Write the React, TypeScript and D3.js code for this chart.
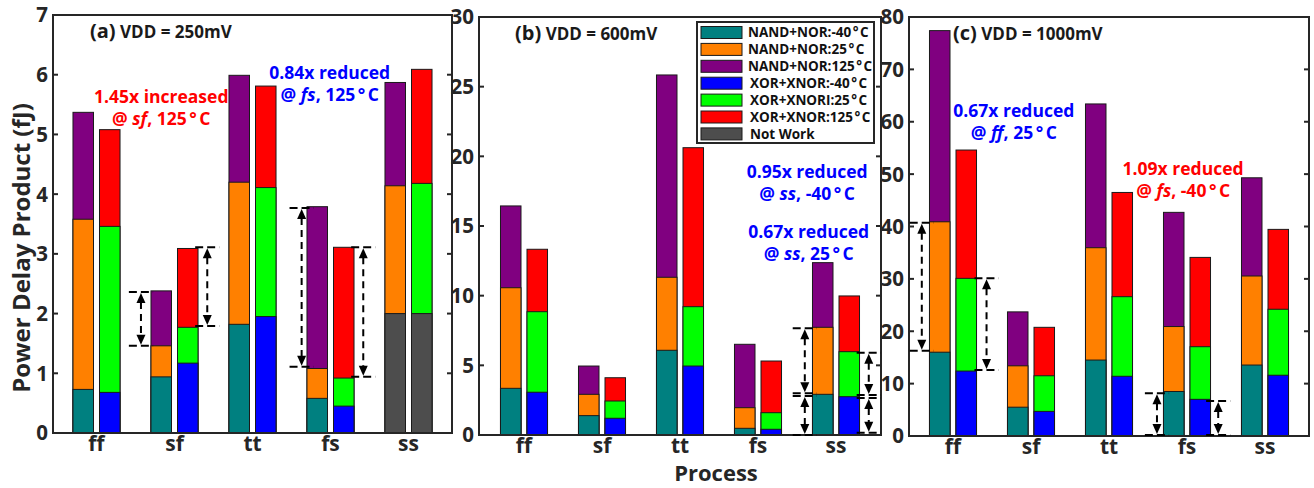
import React from "react";
import * as d3 from "d3";

const W = 1314;
const H = 488;
const FONT = "'Open Sans', 'DejaVu Sans', sans-serif";
const INK = "#262626";

const processes = ["ff", "sf", "tt", "fs", "ss"];

// (a) VDD = 250mV
const aNandM40 = [0.73, 0.94, 1.82, 0.58, 2.0];
const aNand25 = [3.58, 1.46, 4.2, 1.08, 4.14];
const aNand125 = [5.37, 2.38, 5.99, 3.79, 5.87];
const aXorM40 = [0.68, 1.17, 1.95, 0.45, 2.0];
const aXor25 = [3.46, 1.77, 4.11, 0.92, 4.18];
const aXor125 = [5.08, 3.09, 5.81, 3.11, 6.09];
const aNotWork = [false, false, false, false, true];

// (b) VDD = 600mV
const bNandM40 = [3.35, 1.39, 6.08, 0.48, 2.92];
const bNand25 = [10.57, 2.92, 11.32, 1.96, 7.73];
const bNand125 = [16.44, 4.95, 25.84, 6.51, 12.37];
const bXorM40 = [3.07, 1.2, 4.95, 0.41, 2.75];
const bXor25 = [8.85, 2.44, 9.21, 1.6, 5.98];
const bXor125 = [13.33, 4.11, 20.62, 5.31, 9.98];

// (c) VDD = 1000mV
const cNandM40 = [16.0, 5.5, 14.5, 8.5, 13.55];
const cNand25 = [40.9, 13.4, 35.95, 20.9, 30.55];
const cNand125 = [77.4, 23.7, 63.4, 42.7, 49.3];
const cXorM40 = [12.4, 4.7, 11.4, 7.0, 11.6];
const cXor25 = [30.1, 11.5, 26.6, 17.05, 24.2];
const cXor125 = [54.6, 20.75, 46.5, 34.1, 39.45];

const noneNotWork = [false, false, false, false, false];

const legendLabels = [
  "NAND+NOR:-40°C",
  "NAND+NOR:25°C",
  "NAND+NOR:125°C",
  "XOR+XNOR:-40°C",
  "XOR+XNORI:25°C",
  "XOR+XNOR:125°C",
  "Not Work",
];
const legendColors = ["#008080", "#FF8000", "#800080", "#0000FF", "#00FF00", "#FF0000", "#4D4D4D"];

type Arrow = { cat: number; off: number; lo: number; hi: number };
type Seg = { t: string; it?: boolean };
type Note = { cx: number; y: number; color: string; lines: Seg[][] };

const aArrows: Arrow[] = [
  { cat: 2, off: -0.43, lo: 1.46, hi: 2.36 },
  { cat: 2, off: 0.42, lo: 1.79, hi: 3.11 },
  { cat: 4, off: -0.37, lo: 1.11, hi: 3.77 },
  { cat: 4, off: 0.42, lo: 0.94, hi: 3.11 },
];
const bArrows: Arrow[] = [
  { cat: 5, off: -0.4, lo: 2.99, hi: 7.66 },
  { cat: 5, off: -0.4, lo: 0, hi: 2.8 },
  { cat: 5, off: 0.42, lo: 2.87, hi: 5.9 },
  { cat: 5, off: 0.42, lo: 0.17, hi: 2.66 },
];
const cArrows: Arrow[] = [
  { cat: 1, off: -0.4, lo: 16.3, hi: 40.7 },
  { cat: 1, off: 0.43, lo: 12.6, hi: 30.1 },
  { cat: 4, off: -0.385, lo: 0.2, hi: 8.15 },
  { cat: 4, off: 0.4, lo: 0.2, hi: 6.7 },
];

const aNotes: Note[] = [
  { cx: 1.83, y: 5.53, color: "#FF0000", lines: [[{ t: "1.45x increased" }], [{ t: "@ " }, { t: "sf", it: true }, { t: ", 125°C" }]] },
  { cx: 3.99, y: 5.93, color: "#0000FF", lines: [[{ t: "0.84x reduced" }], [{ t: "@ " }, { t: "fs", it: true }, { t: ", 125°C" }]] },
];
const bNotes: Note[] = [
  { cx: 4.63, y: 18.45, color: "#0000FF", lines: [[{ t: "0.95x reduced" }], [{ t: "@ " }, { t: "ss", it: true }, { t: ", -40°C" }]] },
  { cx: 4.65, y: 14.14, color: "#0000FF", lines: [[{ t: "0.67x reduced" }], [{ t: "@ " }, { t: "ss", it: true }, { t: ", 25°C" }]] },
];
const cNotes: Note[] = [
  { cx: 1.78, y: 60.9, color: "#0000FF", lines: [[{ t: "0.67x reduced" }], [{ t: "@ " }, { t: "ff", it: true }, { t: ", 25°C" }]] },
  { cx: 3.95, y: 49.8, color: "#FF0000", lines: [[{ t: "1.09x reduced" }], [{ t: "@ " }, { t: "fs", it: true }, { t: ", -40°C" }]] },
];

// spreads the degree sign out a little, like the original rendering
function Deg({ s, gap }: { s: string; gap: number }) {
  const k = s.indexOf("°");
  if (k < 0) return <>{s}</>;
  return (
    <>
      {s.slice(0, k)}
      <tspan dx={gap}>°</tspan>
      <tspan dx={gap}>{s.slice(k + 1)}</tspan>
    </>
  );
}

type PanelProps = {
  left: number;
  right: number;
  top: number;
  bottom: number;
  yMax: number;
  yStep: number;
  tag: string;
  vdd: string;
  titleDx: number;
  nand: number[][];
  xor: number[][];
  notWork: boolean[];
  arrows: Arrow[];
  notes: Note[];
  legend?: boolean;
};

function Panel(p: PanelProps) {
  const step = 78;
  const mid = (p.left + p.right) / 2;
  const x = d3.scaleLinear().domain([1, 5]).range([mid - 2 * step, mid + 2 * step]);
  const y = d3.scaleLinear().domain([0, p.yMax]).range([p.bottom, p.top]);
  const ticks = d3.range(0, p.yMax + p.yStep / 2, p.yStep);
  const bw = 0.263;
  const off = 0.17;
  const u = (v: number) => x(v) - x(0);

  const sides = [
    { s: p.nand, d: -off, c: [legendColors[0], legendColors[1], legendColors[2]] },
    { s: p.xor, d: off, c: [legendColors[3], legendColors[4], legendColors[5]] },
  ];

  return (
    <g>
      {processes.map((name, i) =>
        sides.map((sd, k) =>
          [2, 1, 0].map((lvl) => {
            const v = sd.s[lvl][i];
            const fill = lvl === 0 && p.notWork[i] ? legendColors[6] : sd.c[lvl];
            return (
              <rect
                key={`${name}-${k}-${lvl}`}
                x={x(i + 1 + sd.d) - u(bw) / 2}
                y={y(v)}
                width={u(bw)}
                height={y(0) - y(v)}
                fill={fill}
                stroke="#1a1a1a"
                strokeWidth={1}
              />
            );
          })
        )
      )}
      {/* frame */}
      <rect x={p.left} y={p.top} width={p.right - p.left} height={p.bottom - p.top} fill="none" stroke={INK} strokeWidth={2} />
      {ticks.map((t) => (
        <g key={t}>
          <line x1={p.left} x2={p.left + 5} y1={y(t)} y2={y(t)} stroke={INK} strokeWidth={2} />
          <line x1={p.right - 5} x2={p.right} y1={y(t)} y2={y(t)} stroke={INK} strokeWidth={2} />
          <text x={p.left - 5} y={y(t)} dy="0.36em" textAnchor="end" fontSize={20.5} fontWeight="bold" fill={INK}>
            {t}
          </text>
        </g>
      ))}
      {processes.map((name, i) => (
        <text key={name} x={x(i + 1)} y={p.bottom + 17.5} textAnchor="middle" fontSize={21} fontWeight="bold" fill={INK}>
          {name}
        </text>
      ))}
      {/* title */}
      <text x={p.left + p.titleDx} y={p.top + 23} fill="#1a1a1a" fontWeight="bold">
        <tspan fontSize={20}>{p.tag}</tspan>
        <tspan fontSize={17}>{" " + p.vdd}</tspan>
      </text>
      {/* dashed arrows */}
      {p.arrows.map((a, j) => {
        const ax = x(a.cat + a.off);
        const yh = y(a.hi);
        const yl = y(a.lo);
        const hw = u(0.155);
        return (
          <g key={j} stroke="#000" strokeWidth={2} fill="none">
            <line x1={ax - hw} x2={ax + hw} y1={yh} y2={yh} strokeDasharray="8,4" />
            <line x1={ax - hw} x2={ax + hw} y1={yl} y2={yl} strokeDasharray="8,4" />
            <line x1={ax} x2={ax} y1={yh + 10} y2={yl - 10} strokeDasharray="7,5" />
            <path d={`M${ax},${yh + 1}L${ax - 4.5},${yh + 11}L${ax + 4.5},${yh + 11}Z`} fill="#000" stroke="none" />
            <path d={`M${ax},${yl - 1}L${ax - 4.5},${yl - 11}L${ax + 4.5},${yl - 11}Z`} fill="#000" stroke="none" />
          </g>
        );
      })}
      {/* notes */}
      {p.notes.map((n, j) => (
        <text key={j} textAnchor="middle" fontSize={17.5} fontWeight="bold" fill={n.color}>
          {n.lines.map((ln, li) => (
            <tspan key={li} x={x(n.cx)} y={y(n.y) + li * 22}>
              {ln.map((sg, si) => (
                <tspan key={si} fontStyle={sg.it ? "italic" : "normal"}>
                  <Deg s={sg.t} gap={2.5} />
                </tspan>
              ))}
            </tspan>
          ))}
        </text>
      ))}
      {p.legend && (
        <g>
          <rect x={p.left + 218} y={p.top + 5} width={177} height={121} fill="#fff" stroke={INK} strokeWidth={2} />
          {legendLabels.map((lab, j) => (
            <g key={lab}>
              <rect x={p.left + 222} y={p.top + 9.5 + j * 16.9} width={41} height={12} fill={legendColors[j]} stroke="#1a1a1a" strokeWidth={1} />
              <text x={p.left + 269 + (j >= 3 ? 2 : 0)} y={p.top + 15.5 + j * 16.9} dy="0.36em" fontSize={13.5} fontWeight="bold" fill="#111">
                <Deg s={lab} gap={1.5} />
              </text>
            </g>
          ))}
        </g>
      )}
    </g>
  );
}

export default function App() {
  return (
    <svg width={W} height={H} style={{ position: "absolute", left: 0, top: 0, fontFamily: FONT }}>
      <rect width={W} height={H} fill="#fff" />
      <Panel
        left={53}
        right={452}
        top={15}
        bottom={433}
        yMax={7}
        yStep={1}
        tag="(a)"
        vdd="VDD = 250mV"
        titleDx={37}
        nand={[aNandM40, aNand25, aNand125]}
        xor={[aXorM40, aXor25, aXor125]}
        notWork={aNotWork}
        arrows={aArrows}
        notes={aNotes}
      />
      <Panel
        left={479}
        right={881}
        top={17}
        bottom={435}
        yMax={30}
        yStep={5}
        tag="(b)"
        vdd="VDD = 600mV"
        titleDx={36}
        nand={[bNandM40, bNand25, bNand125]}
        xor={[bXorM40, bXor25, bXor125]}
        notWork={noneNotWork}
        arrows={bArrows}
        notes={bNotes}
        legend
      />
      <Panel
        left={909}
        right={1309}
        top={17}
        bottom={436}
        yMax={80}
        yStep={10}
        tag="(c)"
        vdd="VDD = 1000mV"
        titleDx={44}
        nand={[cNandM40, cNand25, cNand125]}
        xor={[cXorM40, cXor25, cXor125]}
        notWork={noneNotWork}
        arrows={cArrows}
        notes={cNotes}
      />
      <text transform="translate(30,248) rotate(-90)" textAnchor="middle" fontSize={24} fontWeight="bold" fill={INK}>
        Power Delay Product (fJ)
      </text>
      <text x={716} y={481} textAnchor="middle" fontSize={22} fontWeight="bold" fill={INK}>
        Process
      </text>
    </svg>
  );
}
